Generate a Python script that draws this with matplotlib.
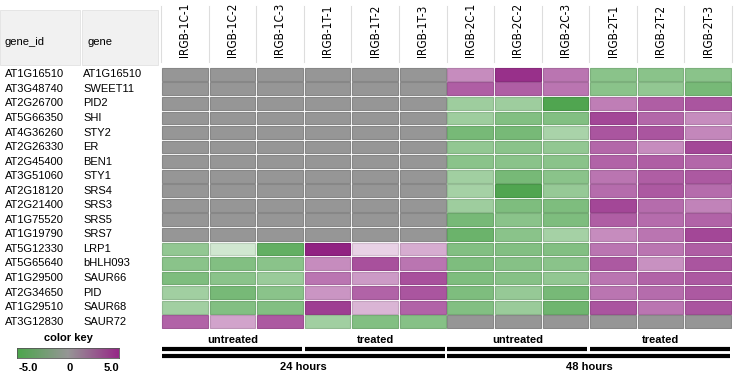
import numpy as np
import matplotlib.pyplot as plt
from matplotlib.patches import Rectangle
from matplotlib.colors import LinearSegmentedColormap
from matplotlib import font_manager

plt.rcParams['font.family'] = ['Liberation Sans', 'DejaVu Sans']

gene_ids = ['AT1G16510', 'AT3G48740', 'AT2G26700', 'AT5G66350', 'AT4G36260', 'AT2G26330',
            'AT2G45400', 'AT3G51060', 'AT2G18120', 'AT2G21400', 'AT1G75520', 'AT1G19790',
            'AT5G12330', 'AT5G65640', 'AT1G29500', 'AT2G34650', 'AT1G29510', 'AT3G12830']
genes = ['AT1G16510', 'SWEET11', 'PID2', 'SHI', 'STY2', 'ER', 'BEN1', 'STY1', 'SRS4',
         'SRS3', 'SRS5', 'SRS7', 'LRP1', 'bHLH093', 'SAUR66', 'PID', 'SAUR68', 'SAUR72']
samples = ['IRGB-1C-1', 'IRGB-1C-2', 'IRGB-1C-3', 'IRGB-1T-1', 'IRGB-1T-2', 'IRGB-1T-3',
           'IRGB-2C-1', 'IRGB-2C-2', 'IRGB-2C-3', 'IRGB-2T-1', 'IRGB-2T-2', 'IRGB-2T-3']

na = np.nan
# log2 fold change, nan = not expressed (gray)
values = np.array([
    [na, na, na, na, na, na, 2.5, 4.5, 3.0, -3.0, -3.0, -3.0],
    [na, na, na, na, na, na, 3.5, 3.5, 3.0, -3.0, -2.8, -3.5],
    [na, na, na, na, na, na, -2.5, -2.5, -4.5, 2.8, 3.5, 3.7],
    [na, na, na, na, na, na, -2.5, -3.2, -3.2, 4.0, 3.3, 2.5],
    [na, na, na, na, na, na, -3.5, -3.5, -2.2, 3.7, 3.7, 2.6],
    [na, na, na, na, na, na, -2.8, -3.0, -2.8, 3.3, 2.5, 4.0],
    [na, na, na, na, na, na, -3.0, -3.0, -3.0, 3.4, 3.5, 3.3],
    [na, na, na, na, na, na, -2.4, -3.5, -3.0, 3.0, 3.5, 3.6],
    [na, na, na, na, na, na, -2.3, -4.5, -2.7, 3.2, 3.6, 3.2],
    [na, na, na, na, na, na, -2.5, -3.3, -3.3, 4.0, 3.2, 2.7],
    [na, na, na, na, na, na, -3.5, -3.0, -3.3, 3.5, 3.2, 3.4],
    [na, na, na, na, na, na, -3.8, -3.0, -2.3, 2.5, 3.0, 4.0],
    [-2.8, -1.2, -4.0, 4.8, 1.0, 1.8, -3.2, -3.2, -3.2, 3.0, 3.0, 3.5],
    [-3.0, -3.2, -3.0, 2.5, 3.8, 3.0, -3.3, -3.1, -3.0, 3.6, 2.4, 3.7],
    [-3.3, -3.0, -2.6, 3.0, 2.2, 3.8, -3.3, -3.1, -2.8, 3.0, 3.4, 3.6],
    [-2.4, -3.5, -3.0, 2.3, 3.4, 3.7, -3.3, -2.7, -3.5, 3.0, 3.2, 3.6],
    [-2.4, -3.2, -3.2, 4.2, 1.6, 3.4, -3.2, -2.6, -3.7, 3.7, 3.0, 3.7],
    [3.4, 2.0, 3.6, -2.4, -3.2, -3.1, na, na, na, na, na, na],
])

treat_groups = ['untreated', 'treated', 'untreated', 'treated']
time_groups = ['24 hours', '48 hours']

green = np.array([60, 155, 60]) / 255
purple = np.array([140, 25, 125]) / 255
gray = np.array([150, 150, 150]) / 255


def cell_color(v):
    if np.isnan(v):
        return gray
    a = min(abs(v) / 5.0, 1.0)
    base = green if v < 0 else purple
    return 1 - a * (1 - base)


# condensed face for the rotated sample labels, if the system has one
cond = [f.name for f in font_manager.fontManager.ttflist if 'Condensed' in f.fname
        and 'DejaVuSans' in f.fname.replace(' ', '')]
print(cond)

fig = plt.figure(figsize=(7.37, 3.77), dpi=100)
W, H = 737, 377

# background canvas in pixel units
bg = fig.add_axes([0, 0, 1, 1])
bg.set_xlim(0, W)
bg.set_ylim(H, 0)
bg.axis('off')

ax = fig.add_axes([161 / W, 1 - 329 / H, 571 / W, 262 / H])
nr, nc = values.shape
ax.set_xlim(0, nc)
ax.set_ylim(nr, 0)
ax.axis('off')

for i in range(nr):
    for j in range(nc):
        c = cell_color(values[i, j])
        ax.add_patch(Rectangle((j + 0.02, i + 0.06), 0.96, 0.88, facecolor=c,
                               edgecolor=c * 0.9, linewidth=0.8))

# row labels
for i in range(nr):
    ax.text(-156 / 571, i + 0.5, gene_ids[i], transform=ax.get_yaxis_transform(),
            ha='left', va='center', fontsize=8)
    ax.text(-78 / 571, i + 0.5, genes[i], transform=ax.get_yaxis_transform(),
            ha='left', va='center', fontsize=8)

# header
bg.add_patch(Rectangle((0, 10), 80, 55, facecolor='#f1f1f1', edgecolor='#e2e2e2', lw=0.6))
bg.add_patch(Rectangle((82, 10), 76, 55, facecolor='#f1f1f1', edgecolor='#e2e2e2', lw=0.6))
bg.text(5, 42, 'gene_id', ha='left', va='center', fontsize=8)
bg.text(88, 42, 'gene', ha='left', va='center', fontsize=8)

for j in range(nc):
    if cond:
        ax.text(j + 0.5, -0.7, samples[j], rotation=90, ha='center', va='bottom',
                fontsize=8.5, family='DejaVu Sans', fontstretch='condensed')
    else:
        ax.text(j + 0.5, -0.7, samples[j], rotation=90, ha='center', va='bottom', fontsize=7.5)
for j in range(nc + 1):
    ax.plot([j, j], [-0.35, -4.2], color='#dddddd', lw=0.8, clip_on=False)

# group bars
for k, g in enumerate(treat_groups):
    x0 = 3 * k
    ax.text(x0 + 1.5, 18.75, g, ha='center', va='center', fontsize=8, fontweight='bold')
    ax.plot([x0 + 0.02, x0 + 2.96], [19.38, 19.38], color='black', lw=3,
            solid_capstyle='butt', clip_on=False)
for k, g in enumerate(time_groups):
    x0 = 6 * k
    ax.plot([x0 + 0.02, x0 + 5.96], [19.85, 19.85], color='black', lw=3,
            solid_capstyle='butt', clip_on=False)
    ax.text(x0 + 3.0, 20.6, g, ha='center', va='center', fontsize=8, fontweight='bold')

# color key
bg.text(68, 338, 'color key', ha='center', va='center', fontsize=8, fontweight='bold')
cmap = LinearSegmentedColormap.from_list('key', [(76 / 255, 166 / 255, 76 / 255), gray,
                                                 (150 / 255, 40 / 255, 135 / 255)])
kax = fig.add_axes([17 / W, 1 - 358 / H, 102 / W, 10 / H])
kax.imshow(np.linspace(-5, 5, 200)[None, :], aspect='auto', cmap=cmap,
           extent=[-5.6, 5.6, 0, 1])
kax.set_xticks([])
kax.set_yticks([])
for s in kax.spines.values():
    s.set_color('#555555')
    s.set_linewidth(0.6)
for x, t in zip([28, 70, 111], ['-5.0', '0', '5.0']):
    bg.text(x, 368, t, ha='center', va='center', fontsize=8, fontweight='bold')

fig.savefig('out.png', dpi=100)
